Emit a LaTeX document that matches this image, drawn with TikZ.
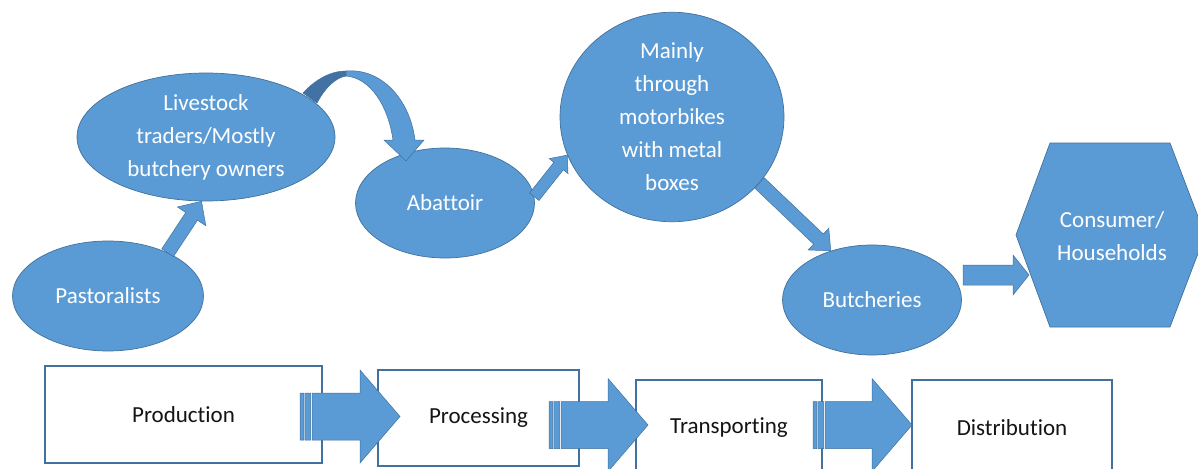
\documentclass[tikz,border=0pt]{standalone}
\usepackage{fontspec}
\setmainfont[RawFeature={-liga;-clig;-calt;-dlig}]{Carlito}
\usetikzlibrary{shapes.geometric,calc}
\definecolor{fillb}{HTML}{5B9BD5}
\definecolor{lineb}{HTML}{41719C}
\definecolor{darkb}{HTML}{4272A3}
\definecolor{txt}{HTML}{141414}
\tikzset{
  bub/.style={ellipse, fill=fillb, draw=lineb, line width=0.7pt, text=white,
    inner sep=0pt, align=center, font=\fontsize{23}{33}\selectfont},
  stagebox/.style={rectangle, draw=lineb, line width=1.3pt, fill=white,
    text=txt, inner sep=0pt, font=\fontsize{23}{33}\selectfont},
  blk/.style={fill=fillb, draw=lineb, line width=0.5pt, line join=miter},
  hexlabel/.style={text=white, align=center, inner sep=0pt, font=\fontsize{23}{33}\selectfont},
}
% block arrow: tail, tip, shaft half width, head half width, head length
\newcommand\blockarr[5]{%
  \coordinate (ba-h) at ($(#2)!#5!(#1)$);
  \draw[blk] ($(#1)!#3!90:(#2)$) -- ($(ba-h)!#3!90:(#2)$) -- ($(ba-h)!#4!90:(#2)$)
    -- (#2) -- ($(ba-h)!#4!-90:(#2)$) -- ($(ba-h)!#3!-90:(#2)$) -- ($(#1)!#3!-90:(#2)$) -- cycle;}
% striped right arrow: tail coordinate, tip coordinate
\newcommand\stripearr[2]{%
  \draw[blk] let \p1=(#1), \p2=(#2) in
    (\x1,\y2-23.5pt) rectangle (\x1+3.5pt,\y2+23.5pt)
    (\x1+4.8pt,\y2-23.5pt) rectangle (\x1+10.5pt,\y2+23.5pt)
    (\x1+12pt,\y2-23.5pt) -- (\x2-40pt,\y2-23.5pt) -- (\x2-40pt,\y2-46.5pt) -- (\x2,\y2)
    -- (\x2-40pt,\y2+46.5pt) -- (\x2-40pt,\y2+23.5pt) -- (\x1+12pt,\y2+23.5pt) -- cycle;}
\begin{document}
\begin{tikzpicture}[x=1pt,y=-1pt]
\useasboundingbox (0,0) rectangle (1198,468);
\clip (0,0) rectangle (1198,468);
\fill[white] (0,0) rectangle (1198,468);

% upper chain
\node[bub, minimum width=191pt, minimum height=110pt] (pasto) at (108,296) {Pastoralists};
\node[bub, minimum width=258pt, minimum height=128pt] (live) at (206,137) {Livestock\\traders/Mostly\\butchery owners};
\node[bub, minimum width=179pt, minimum height=110pt] (abat) at (445,203) {Abattoir};
\node[bub, minimum width=224pt, minimum height=206pt] (motor) at (672,117) {Mainly\\through\\motorbikes\\with metal\\boxes};
\node[bub, minimum width=179pt, minimum height=110pt] (butch) at (872,300) {Butcheries};
\draw[blk, line width=0.7pt] (1050,143) -- (1170,143) -- (1205,235) -- (1170,327) -- (1050,327) -- (1016,235) -- cycle;
\node[hexlabel] (cons) at (1112,236) {Consumer/\\Households};
\coordinate (hexin) at (1029,275);
\coordinate (butchout) at (963,275);

\blockarr{pasto.36}{live.-94}{7pt}{17pt}{18pt}
\blockarr{abat.4}{motor.200}{6pt}{12pt}{14pt}
\blockarr{motor.-37}{butch.130}{7pt}{15pt}{17pt}
\blockarr{butchout}{hexin}{10pt}{20pt}{16pt}

% curved arrow from traders to abattoir
\coordinate (cstart) at (310,97);
\coordinate (cend) at (406,161);
\fill[darkb, draw=lineb, line width=0.5pt] (303,93) .. controls (315,80) and (330,71) .. (346,71)
  -- (346,76) .. controls (335,78) and (325,88) .. (317,103) -- cycle;
\draw[blk] (346,71) .. controls (382,68) and (410,100) .. (415,140) -- (424,140) -- (cend)
  -- (384,140) -- (393,140) .. controls (388,105) and (370,78) .. (346,76) -- cycle;

% lower stages
\node[stagebox, minimum width=277pt, minimum height=97pt] (prod) at (183.5,414.5) {Production};
\node[stagebox, minimum width=201pt, minimum height=96pt] (proc) at (478.5,418) {Processing};
\node[stagebox, minimum width=186pt, minimum height=96pt] (trans) at (729,428) {Transporting};
\node[stagebox, minimum width=200pt, minimum height=96pt] (dist) at (1012,428) {Distribution};

\coordinate (t1) at (300,416.5); \coordinate (p1) at (400,416.5);
\coordinate (t2) at (549,425);   \coordinate (p2) at (648,425);
\coordinate (t3) at (813,425);   \coordinate (p3) at (912,425);
\stripearr{t1}{p1}
\stripearr{t2}{p2}
\stripearr{t3}{p3}
\end{tikzpicture}
\end{document}
